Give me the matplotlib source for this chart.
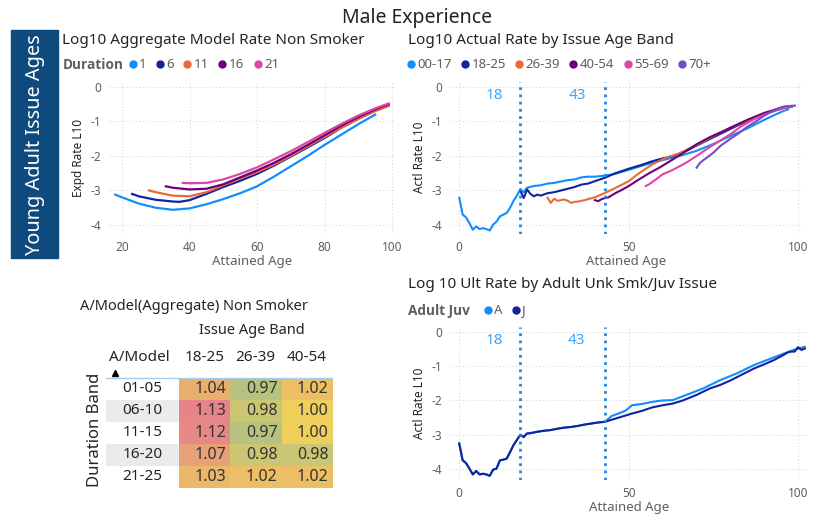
import numpy as np
import matplotlib.pyplot as plt
from matplotlib.lines import Line2D
from matplotlib.patches import Rectangle
from matplotlib.colors import LinearSegmentedColormap

plt.rcParams['font.family'] = ['Noto Sans', 'DejaVu Sans']

# colores tipo Power BI
c_lblue = '#118DFF'
c_navy = '#12239E'
c_orange = '#E66C37'
c_purple = '#6B007B'
c_pink = '#E044A7'
c_violet = '#744EC2'

# ---- Modelo agregado (arriba izquierda) ----
dur_labels = ['1', '6', '11', '16', '21']
dur1_age = [18, 20, 25, 30, 35, 40, 45, 50, 55, 60, 65, 70, 75, 80, 85, 90, 95]
dur1_val = [-3.12, -3.2, -3.38, -3.5, -3.56, -3.52, -3.4, -3.25, -3.08, -2.88, -2.6, -2.3, -2.0, -1.68, -1.38, -1.08, -0.8]
dur6_age = [23, 25, 30, 35, 37, 40, 45, 50, 55, 60, 65, 70, 75, 80, 85, 90, 95, 99]
dur6_val = [-3.1, -3.17, -3.27, -3.32, -3.33, -3.28, -3.1, -2.9, -2.72, -2.52, -2.28, -2.02, -1.75, -1.48, -1.18, -0.92, -0.68, -0.52]
dur11_age = [28, 30, 35, 40, 45, 50, 55, 60, 65, 70, 75, 80, 85, 90, 95, 99]
dur11_val = [-3.0, -3.05, -3.15, -3.17, -3.05, -2.85, -2.65, -2.47, -2.25, -2.0, -1.72, -1.45, -1.18, -0.93, -0.7, -0.55]
dur16_age = [33, 35, 40, 45, 50, 55, 60, 65, 70, 75, 80, 85, 90, 95, 99]
dur16_val = [-2.88, -2.92, -2.97, -2.95, -2.82, -2.62, -2.42, -2.2, -1.95, -1.68, -1.4, -1.12, -0.87, -0.65, -0.5]
dur21_age = [38, 40, 45, 50, 55, 60, 65, 70, 75, 80, 85, 90, 95, 99]
dur21_val = [-2.78, -2.79, -2.78, -2.68, -2.52, -2.33, -2.1, -1.86, -1.6, -1.33, -1.07, -0.83, -0.62, -0.48]

# ---- Tasa real por banda de edad (arriba derecha) ----
band_labels = ['00-17', '18-25', '26-39', '40-54', '55-69', '70+']
b00_age = [0, 1, 2, 3, 4, 5, 6, 7, 8, 9, 10, 11, 12, 13, 14, 15, 16, 17, 18, 19, 20,
           22, 24, 26, 28, 30, 32, 34, 36, 38, 40, 43, 46, 50, 55, 60, 65, 70, 75, 80, 85, 90, 95, 97]
b00_val = [-3.21, -3.7, -3.78, -3.95, -4.14, -4.04, -4.12, -4.09, -4.12, -4.16, -3.99, -3.9, -3.75, -3.7,
           -3.65, -3.5, -3.3, -3.15, -2.97, -3.05, -2.92, -2.87, -2.85, -2.8, -2.78, -2.74, -2.7, -2.68,
           -2.62, -2.6, -2.6, -2.57, -2.52, -2.4, -2.25, -2.12, -2.0, -1.85, -1.65, -1.42, -1.2, -0.95, -0.72, -0.65]
b18_age = [18, 19, 20, 21, 22, 23, 24, 26, 28, 30, 32, 34, 36, 38, 40, 43, 46, 50, 54, 57,
           60, 63, 67, 72, 77, 82, 87, 92, 96, 98]
b18_val = [-3.0, -3.22, -2.97, -3.1, -3.17, -3.12, -3.15, -3.08, -3.05, -3.0, -2.95, -2.9, -2.83, -2.8,
           -2.73, -2.63, -2.5, -2.37, -2.25, -2.15, -2.07, -2.0, -1.85, -1.6, -1.36, -1.12, -0.9, -0.72, -0.6, -0.58]
b26_age = [26, 27, 28, 29, 30, 31, 32, 33, 34, 35, 36, 37, 38, 40, 43, 46, 50, 53, 57, 61,
           65, 70, 75, 80, 85, 90, 95, 98]
b26_val = [-3.21, -3.36, -3.24, -3.3, -3.28, -3.26, -3.3, -3.36, -3.33, -3.32, -3.3, -3.28, -3.25, -3.2,
           -3.07, -2.93, -2.73, -2.5, -2.24, -2.05, -1.92, -1.68, -1.42, -1.18, -0.97, -0.78, -0.62, -0.57]
b40_age = [40, 41, 42, 43, 44, 46, 48, 50, 53, 56, 59, 63, 67, 70, 74, 77, 80, 85, 90, 95, 98]
b40_val = [-3.28, -3.31, -3.25, -3.22, -3.2, -3.08, -2.98, -2.87, -2.68, -2.5, -2.34, -2.1, -1.85, -1.66,
           -1.45, -1.32, -1.18, -0.95, -0.75, -0.6, -0.56]
b55_age = [55, 56, 57, 58, 60, 62, 64, 67, 70, 73, 77, 80, 83, 87, 90, 93, 96, 98]
b55_val = [-2.87, -2.82, -2.75, -2.68, -2.53, -2.45, -2.35, -2.19, -2.0, -1.8, -1.55, -1.37, -1.15, -0.93,
           -0.8, -0.69, -0.6, -0.57]
b70_age = [70, 71, 72, 73, 75, 77, 80, 82, 85, 87, 90, 92, 94, 96, 99]
b70_val = [-2.34, -2.2, -2.12, -2.05, -1.9, -1.71, -1.5, -1.37, -1.15, -1.03, -0.83, -0.72, -0.62, -0.56, -0.54]

# ---- Tasa ultima Adulto / Juvenil (abajo derecha) ----
aj_labels = ['A', 'J']
young_age = [0, 1, 2, 3, 4, 5, 6, 7, 8, 9, 10, 11, 12, 13, 14, 15, 16, 17, 18, 19, 20, 21,
             23, 25, 27, 29, 31, 33, 35, 37, 39, 41, 43]
young_val = [-3.25, -3.74, -3.82, -3.98, -4.15, -4.05, -4.15, -4.13, -4.15, -4.19, -4.01, -3.98, -3.74,
             -3.72, -3.69, -3.5, -3.3, -3.15, -3.0, -3.06, -2.96, -2.95, -2.91, -2.88, -2.86, -2.82,
             -2.79, -2.77, -2.74, -2.7, -2.67, -2.64, -2.62]
a_tail_age = [45, 47, 49, 51, 54, 57, 60, 63, 67, 72, 77, 82, 87, 92, 96, 99, 102]
a_tail_val = [-2.45, -2.38, -2.3, -2.14, -2.1, -2.04, -2.0, -1.99, -1.84, -1.65, -1.41, -1.21, -0.97,
              -0.78, -0.63, -0.52, -0.44]
j_tail_age = [47, 51, 54, 57, 60, 63, 66, 70, 74, 77, 80, 84, 87, 90, 93, 96, 97, 98, 99, 100, 101, 102]
j_tail_val = [-2.5, -2.38, -2.3, -2.2, -2.14, -2.09, -2.0, -1.84, -1.65, -1.55, -1.42, -1.22, -1.07,
              -0.95, -0.82, -0.66, -0.6, -0.58, -0.58, -0.45, -0.53, -0.49]

# ---- Tabla A/Model ----
dur_bands = ['01-05', '06-10', '11-15', '16-20', '21-25']
issue_bands = ['18-25', '26-39', '40-54']
ae_ratio = np.array([[1.04, 0.97, 1.02],
                     [1.13, 0.98, 1.00],
                     [1.12, 0.97, 1.00],
                     [1.07, 0.98, 0.98],
                     [1.03, 1.02, 1.02]])

cut_ages = [18, 43]

W, H = 817, 514
fig = plt.figure(figsize=(W / 100, H / 100), dpi=100)


def fx(px):
    return px / W


def fy(py):
    return 1 - py / H


txt_gray = '#605E5C'
dark = '#252423'
bold_font = ['Open Sans', 'DejaVu Sans']


def style_axes(ax, ylab):
    for s in ax.spines.values():
        s.set_visible(False)
    ax.tick_params(length=0, labelsize=8.5, labelcolor=txt_gray, pad=5)
    ax.grid(True, color='#d9d9d9', linestyle=(0, (1, 2)), linewidth=0.8)
    ax.set_axisbelow(True)
    ax.set_yticks([0, -1, -2, -3, -4])
    ax.set_yticklabels(['0', '-1', '-2', '-3', '-4'])
    ax.set_xlabel('Attained Age', fontsize=9.5, color=txt_gray, labelpad=1)
    ax.set_ylabel(ylab, fontsize=8.5, color=dark, labelpad=4)


def legend_row(title, labels, colors, tx, ty, lx):
    if title:
        fig.text(fx(tx), fy(ty), title, fontsize=9.8, fontweight='bold', color=txt_gray, va='center',
                 family=bold_font)
    handles = [Line2D([], [], marker='o', ls='', color=c, markersize=5) for c in colors]
    fig.legend(handles, labels, loc='center left', bbox_to_anchor=(fx(lx), fy(ty)), ncol=len(labels),
               frameon=False, fontsize=9.5, handletextpad=0.0, columnspacing=0.5, borderpad=0,
               borderaxespad=0, labelcolor=txt_gray, handlelength=1.0)


# titulo general y caja lateral
fig.text(fx(417), fy(18), 'Male Experience', fontsize=14, ha='center', va='center',
         family=['Liberation Sans Narrow', 'Noto Sans', 'DejaVu Sans'], color='#222222')
fig.patches.append(Rectangle((fx(11), fy(258)), fx(47), 228 / H, transform=fig.transFigure,
                             color='#0E4A7E', zorder=0))
fig.text(fx(35), fy(145), 'Young Adult Issue Ages', rotation=90, fontsize=14.3, color='white',
         ha='center', va='center')

# ---- arriba izquierda ----
ax1 = fig.add_axes([fx(108.5), fy(233.6), fx(286.9), 151.8 / H])
dur_series = [(dur1_age, dur1_val), (dur6_age, dur6_val), (dur11_age, dur11_val),
              (dur16_age, dur16_val), (dur21_age, dur21_val)]
dur_colors = [c_lblue, c_navy, c_orange, c_purple, c_pink]
for (a, v), c in zip(dur_series, dur_colors):
    ax1.plot(a, v, color=c, lw=1.6)
ax1.set_xlim(16, 101)
ax1.set_ylim(-4.25, 0.15)
ax1.set_xticks([20, 40, 60, 80, 100])
style_axes(ax1, 'Expd Rate L10')
fig.text(fx(62), fy(40), 'Log10 Aggregate Model Rate Non Smoker', fontsize=11, color=dark, va='center')
legend_row('Duration', dur_labels, dur_colors, 63, 65, 126)

# ---- arriba derecha ----
ax2 = fig.add_axes([fx(449.1), fy(233.6), fx(354.3), 151.8 / H])
band_series = [(b00_age, b00_val), (b18_age, b18_val), (b26_age, b26_val),
               (b40_age, b40_val), (b55_age, b55_val), (b70_age, b70_val)]
band_colors = [c_lblue, c_navy, c_orange, c_purple, c_pink, c_violet]
for (a, v), c in zip(band_series, band_colors):
    ax2.plot(a, v, color=c, lw=1.5)
ax2.set_xlim(-3, 101.5)
ax2.set_ylim(-4.25, 0.15)
ax2.set_xticks([0, 50, 100])
style_axes(ax2, 'Actl Rate L10')
fig.text(fx(408), fy(40), 'Log10 Actual Rate by Issue Age Band', fontsize=11, color=dark, va='center')
legend_row('', band_labels, band_colors, 404, 65, 404)

# ---- abajo derecha ----
ax3 = fig.add_axes([fx(449.1), fy(479.6), fx(359.1), 153.1 / H])
ax3.plot(young_age + a_tail_age, young_val + a_tail_val, color=c_lblue, lw=1.5)
ax3.plot(young_age + j_tail_age, young_val + j_tail_val, color=c_navy, lw=1.5)
ax3.set_xlim(-3, 103)
ax3.set_ylim(-4.3, 0.15)
ax3.set_xticks([0, 50, 100])
style_axes(ax3, 'Actl Rate L10')
fig.text(fx(408), fy(284), 'Log 10 Ult Rate by Adult Unk Smk/Juv Issue', fontsize=11, color=dark, va='center')
legend_row('Adult Juv', aj_labels, [c_lblue, c_navy], 408, 311, 481)

for ax in (ax2, ax3):
    for ca in cut_ages:
        ax.axvline(ca, color='#1E88E5', linestyle=(0, (1, 1.6)), lw=2)
    ax.text(10.5, -0.25, str(cut_ages[0]), color='#41A4F5', fontsize=11, ha='center', va='center')
    ax.text(34.7, -0.25, str(cut_ages[1]), color='#41A4F5', fontsize=11, ha='center', va='center')

# ---- tabla ----
cmap = LinearSegmentedColormap.from_list('ae', [(0.0, '#B8C27F'), (0.1875, '#F0D05C'),
                                                (0.4375, '#EAB06C'), (1.0, '#E6848A')])
axt = fig.add_axes([fx(106), fy(488), fx(226), 110 / H])
axt.imshow(ae_ratio, cmap=cmap, vmin=0.97, vmax=1.13, extent=(0, 3, 5, 0), aspect='auto')
axt.set_xlim(-1.43, 3)
axt.set_ylim(5, 0)
axt.axis('off')
for i in range(len(dur_bands)):
    if i % 2 == 1:
        axt.add_patch(Rectangle((-1.43, i), 1.43, 1, color='#EBEBEB', lw=0))
    axt.text(-0.72, i + 0.5, dur_bands[i], fontsize=11, color=dark, ha='center', va='center')
    for j in range(len(issue_bands)):
        axt.text(j + 0.93, i + 0.5, f'{ae_ratio[i, j]:.2f}', fontsize=11.5, color='#333333',
                 ha='right', va='center')
for j, b in enumerate(issue_bands):
    axt.text(j + 0.5, -0.91, b, fontsize=11, color=dark, ha='center', va='center', clip_on=False)
axt.text(-1.38, -0.91, 'A/Model', fontsize=11, color=dark, ha='left', va='center', clip_on=False)
axt.plot([-1.25], [-0.25], marker='^', color='black', markersize=4, clip_on=False)
axt.plot([-1.43, 3], [0, 0], color='#A7CDEF', lw=1, clip_on=False)

fig.text(fx(194), fy(307), 'A/Model(Aggregate) Non Smoker', fontsize=10.5, color=dark, ha='center', va='center')
fig.text(fx(252), fy(331), 'Issue Age Band', fontsize=10.5, color=dark, ha='center', va='center')
fig.text(fx(95), fy(430), 'Duration Band', fontsize=12, rotation=90, color=dark, ha='center', va='center')

fig.savefig('out.png', dpi=100)
